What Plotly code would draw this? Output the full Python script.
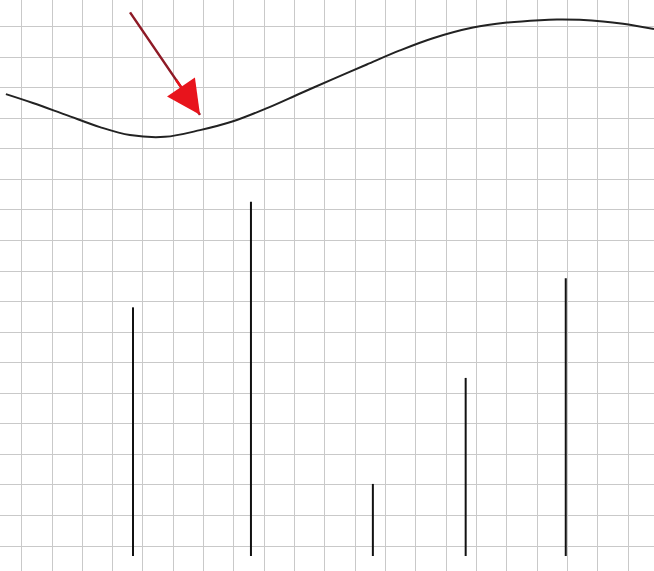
import plotly.graph_objects as go

# Smooth curve (data units: one grid square = 1 unit)
curve_x = [-0.52, 0.37, 1.46, 2.58, 3.57, 4.72, 5.88, 6.97, 8.09, 9.18, 10.26, 11.38,
           12.47, 13.56, 14.88, 16.0, 17.09, 17.65, 18.4, 19.17, 19.83, 20.85]
curve_y = [15.12, 14.83, 14.44, 14.04, 13.78, 13.72, 13.94, 14.23, 14.66, 15.14, 15.61, 16.09,
           16.55, 16.95, 17.3, 17.46, 17.54, 17.56, 17.55, 17.5, 17.42, 17.25]

# Vertical stems
stem_x = [3.67, 7.56, 11.58, 14.64, 17.94]
stem_h = [8.14, 11.6, 2.36, 5.83, 9.09]

# Arrow tip
arrow_x = 5.88
arrow_y = 14.44

fig = go.Figure()

fig.add_trace(go.Scatter(x=curve_x, y=curve_y, mode="lines",
                         line=dict(color="#222222", width=2, shape="spline", smoothing=1.0),
                         hoverinfo="skip", showlegend=False))

sx, sy = [], []
for x, h in zip(stem_x, stem_h):
    sx += [x, x, None]
    sy += [0, h, None]
fig.add_trace(go.Scatter(x=sx, y=sy, mode="lines",
                         line=dict(color="#111111", width=2),
                         hoverinfo="skip", showlegend=False))

# Arrow: dark red shaft, bright red head
fig.add_annotation(x=arrow_x, y=arrow_y, ax=-71, ay=-104, text="", showarrow=True,
                   arrowhead=0, arrowwidth=2.5, arrowcolor="#8e1a26")
fig.add_annotation(x=arrow_x, y=arrow_y, ax=-71 * 0.35, ay=-104 * 0.35, text="", showarrow=True,
                   arrowhead=2, arrowsize=2.7, arrowwidth=2.5, arrowcolor="#e8141c")

fig.update_layout(
    width=654, height=571,
    margin=dict(l=0, r=0, t=0, b=0),
    paper_bgcolor="white", plot_bgcolor="white",
    showlegend=False,
    xaxis=dict(range=[-0.715, 20.85], tick0=0, dtick=1, showgrid=True,
               gridcolor="#c9c9c9", gridwidth=1.2, zeroline=False,
               showticklabels=False, ticks="", showline=False, fixedrange=True),
    yaxis=dict(range=[-0.49, 18.2], tick0=0.327, dtick=1, showgrid=True,
               gridcolor="#c9c9c9", gridwidth=1.2, zeroline=False,
               showticklabels=False, ticks="", showline=False, fixedrange=True),
)

fig.write_html("out.html", config={"displayModeBar": False},
               post_script="document.body.style.margin='0';document.body.style.overflow='hidden';")
